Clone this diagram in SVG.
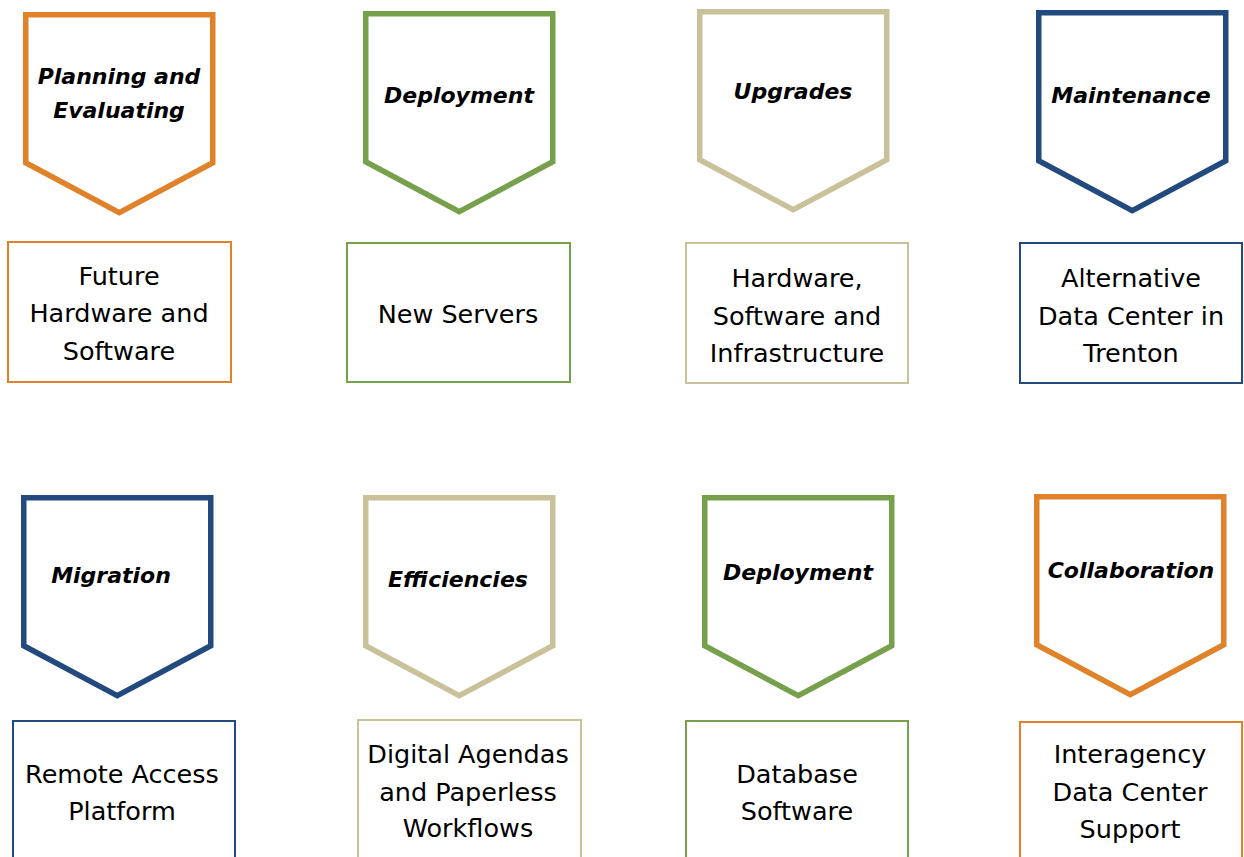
<svg xmlns="http://www.w3.org/2000/svg" width="1244" height="857" viewBox="0 0 1244 857">
<style>
.pent{fill:#fff;stroke-width:5.5;stroke-linejoin:miter}
.box{fill:#fff;stroke-width:2}
.o{stroke:#E0822A}.g{stroke:#76A04B}.t{stroke:#C8C19A}.b{stroke:#234A7E}
.hd{font-family:"DejaVu Sans",Verdana,sans-serif;font-weight:bold;font-style:italic;font-size:22px;fill:#000;text-anchor:middle}
.tx{font-family:"DejaVu Sans",Verdana,sans-serif;font-size:25.5px;fill:#000;text-anchor:middle}
</style>
<defs>
<path id="pg" d="M0,0 H187 V148 L93.5,198 L0,148 Z"/>
</defs>
<rect width="1244" height="857" fill="#fff"/>
<g id="connectors"></g>

<g id="n1">
<use href="#pg" class="pent o" transform="translate(25.75,14.75)"/>
<text class="hd"><tspan x="119" y="84">Planning and</tspan><tspan x="119" y="118">Evaluating</tspan></text>
</g>
<g id="n1b">
<rect class="box o" x="8" y="242" width="223" height="140"/>
<text class="tx"><tspan x="119" y="285">Future</tspan><tspan x="119" y="322">Hardware and</tspan><tspan x="119" y="360">Software</tspan></text>
</g>

<g id="n2">
<use href="#pg" class="pent g" transform="translate(365.75,13.75)"/>
<text class="hd" x="459" y="103">Deployment</text>
</g>
<g id="n2b">
<rect class="box g" x="347" y="243" width="223" height="139"/>
<text class="tx" x="458" y="323">New Servers</text>
</g>

<g id="n3">
<use href="#pg" class="pent t" transform="translate(699.75,11.75)"/>
<text class="hd" x="793" y="99">Upgrades</text>
</g>
<g id="n3b">
<rect class="box t" x="686" y="243" width="222" height="140"/>
<text class="tx"><tspan x="797" y="287">Hardware,</tspan><tspan x="797" y="325">Software and</tspan><tspan x="797" y="362">Infrastructure</tspan></text>
</g>

<g id="n4">
<use href="#pg" class="pent b" transform="translate(1038.75,12.75)"/>
<text class="hd" x="1131" y="103">Maintenance</text>
</g>
<g id="n4b">
<rect class="box b" x="1020" y="243" width="222" height="140"/>
<text class="tx"><tspan x="1131" y="287">Alternative</tspan><tspan x="1131" y="325">Data Center in</tspan><tspan x="1131" y="362">Trenton</tspan></text>
</g>

<g id="n5">
<use href="#pg" class="pent b" transform="translate(23.75,497.75)"/>
<text class="hd" x="111" y="583">Migration</text>
</g>
<g id="n5b">
<rect class="box b" x="13" y="721" width="222" height="150"/>
<text class="tx"><tspan x="122" y="783">Remote Access</tspan><tspan x="122" y="820">Platform</tspan></text>
</g>

<g id="n6">
<use href="#pg" class="pent t" transform="translate(365.75,497.75)"/>
<text class="hd" x="458" y="587">Efficiencies</text>
</g>
<g id="n6b">
<rect class="box t" x="358" y="720" width="223" height="150"/>
<text class="tx"><tspan x="468" y="763">Digital Agendas</tspan><tspan x="468" y="801">and Paperless</tspan><tspan x="468" y="837">Workflows</tspan></text>
</g>

<g id="n7">
<use href="#pg" class="pent g" transform="translate(704.75,497.75)"/>
<text class="hd" x="798" y="580">Deployment</text>
</g>
<g id="n7b">
<rect class="box g" x="686" y="721" width="222" height="150"/>
<text class="tx"><tspan x="797" y="783">Database</tspan><tspan x="797" y="820">Software</tspan></text>
</g>

<g id="n8">
<use href="#pg" class="pent o" transform="translate(1036.75,496.75)"/>
<text class="hd" x="1131" y="578">Collaboration</text>
</g>
<g id="n8b">
<rect class="box o" x="1020" y="722" width="222" height="150"/>
<text class="tx"><tspan x="1130" y="763">Interagency</tspan><tspan x="1130" y="801">Data Center</tspan><tspan x="1130" y="838">Support</tspan></text>
</g>
</svg>
